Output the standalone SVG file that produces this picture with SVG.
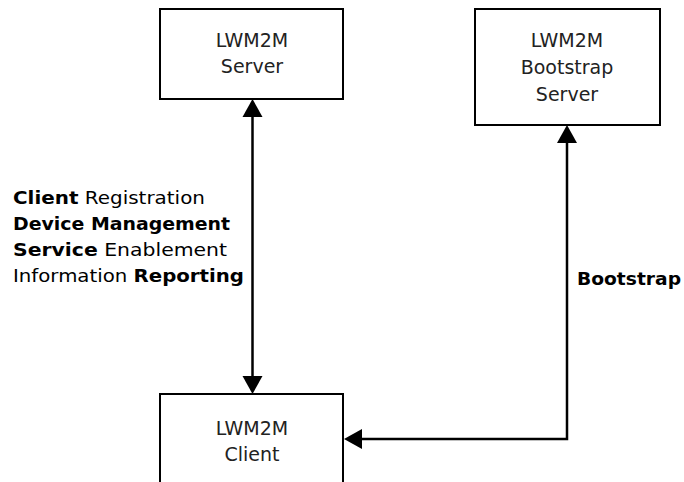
<svg xmlns="http://www.w3.org/2000/svg" width="684" height="482" viewBox="0 0 684 482">
<style>
.box{fill:#fff;stroke:#000;stroke-width:2}
.bt{font-family:"DejaVu Sans","Liberation Sans",sans-serif;font-size:19px;fill:#222;text-anchor:middle}
.lbl{font-family:"DejaVu Sans","Liberation Sans",sans-serif;font-size:18px;fill:#000}
.b{font-weight:bold}
.ln{fill:none;stroke:#000;stroke-width:2.5}
.ah{fill:#000}
</style>
<rect width="684" height="482" fill="#fff"/>
<g id="connectors">
<line class="ln" x1="252.5" y1="112" x2="252.5" y2="380"/>
<polygon class="ah" points="252.5,99 242.5,117 262.5,117"/>
<polygon class="ah" points="252.5,394 242.5,376 262.5,376"/>
<polyline class="ln" points="567,140 567,439 358,439"/>
<polygon class="ah" points="567,125 557,143 577,143"/>
<polygon class="ah" points="344,439 362,429 362,449"/>
</g>
<g id="server">
<rect class="box" x="160" y="9" width="183" height="90"/>
<text class="bt" x="252" y="47">LWM2M</text>
<text class="bt" x="252" y="73">Server</text>
</g>
<g id="bootstrap-server">
<rect class="box" x="475" y="9" width="185" height="116"/>
<text class="bt" x="567" y="47">LWM2M</text>
<text class="bt" x="567" y="74">Bootstrap</text>
<text class="bt" x="567" y="101">Server</text>
</g>
<g id="client">
<rect class="box" x="160" y="394" width="183" height="100"/>
<text class="bt" x="252" y="435">LWM2M</text>
<text class="bt" x="252" y="461">Client</text>
</g>
<g id="labels">
<text class="lbl" x="13" y="204" textLength="192" lengthAdjust="spacingAndGlyphs"><tspan class="b">Client</tspan> Registration</text>
<text class="lbl b" x="13" y="230" textLength="217" lengthAdjust="spacingAndGlyphs">Device Management</text>
<text class="lbl" x="13" y="256" textLength="214" lengthAdjust="spacingAndGlyphs"><tspan class="b">Service</tspan> Enablement</text>
<text class="lbl" x="13" y="282" textLength="231" lengthAdjust="spacingAndGlyphs">Information <tspan class="b">Reporting</tspan></text>
<text class="lbl b" x="577" y="285" textLength="104" lengthAdjust="spacingAndGlyphs">Bootstrap</text>
</g>
</svg>
